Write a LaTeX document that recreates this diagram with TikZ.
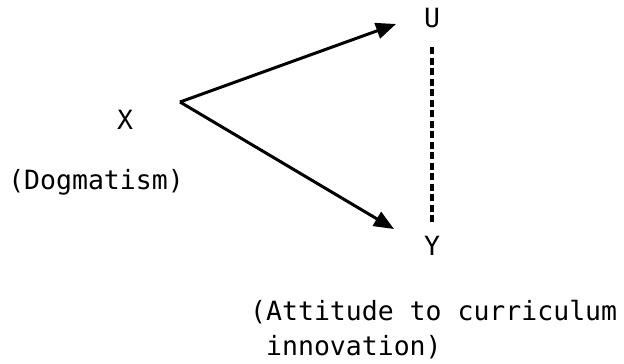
\documentclass[tikz,border=0pt]{standalone}
\usepackage{fontspec}
\setmonofont{DejaVu Sans Mono}
\usetikzlibrary{arrows.meta, positioning}
\tikzset{
  varnode/.style={inner sep=0pt, font=\fontsize{26.5}{35}\selectfont\ttfamily},
  notenode/.style={varnode, align=left},
  effect/.style={-{Triangle[length=20pt,width=16pt]}, line width=3pt, black},
  corr/.style={line width=3.5pt, dash pattern=on 7pt off 3.5pt, black}
}

\begin{document}
\begin{tikzpicture}[x=1pt,y=-1pt]
  \useasboundingbox (0,0) rectangle (624,364);
  \node[varnode] (x) at (125,120) {X};
  \node[notenode] (dog) at (96,182) {(Dogmatism)};
  \node[varnode] (u) at (432,18) {U};
  \node[varnode] (y) at (432,246) {Y};
  \node[notenode, anchor=north west] (att) at (250,300) {(Attitude to curriculum\\\phantom{(}innovation)};
  \coordinate (src) at (180,102);
  \coordinate (tipu) at (396,24);
  \coordinate (tipy) at (394,229);
  % causal paths
  \draw[effect] (src) -- (tipu);
  \draw[effect] (src) -- (tipy);
  % residual link
  \draw[corr, shorten <=19pt, shorten >=13pt] (u.south) -- (y.north);
\end{tikzpicture}
\end{document}
